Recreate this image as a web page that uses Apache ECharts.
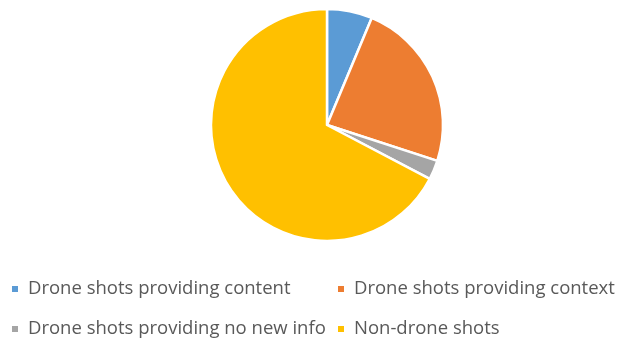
<!DOCTYPE html>
<html>
<head>
<meta charset="utf-8">
<script src="https://cdn.jsdelivr.net/npm/echarts@6/dist/echarts.min.js"></script>
<style>
  html, body { margin: 0; padding: 0; background: #fff; }
  #chart { width: 617px; height: 341px; }
</style>
</head>
<body>
<div id="chart"></div>
<script>
const categories = [
  'Drone shots providing content',
  'Drone shots providing context',
  'Drone shots providing no new info',
  'Non-drone shots'
]
const shares = [6.3, 23.7, 2.7, 67.3]
const colors = ['#5B9BD5', '#ED7D31', '#A5A5A5', '#FFC000']

// legend slots laid out like the two-column original
const legendSlots = [
  { left: 10, top: 289 },
  { left: 336, top: 289 },
  { left: 10, top: 329 },
  { left: 336, top: 329 }
]

const chart = echarts.init(document.getElementById('chart'))

const legends = categories.map((name, i) => ({
  data: [name],
  left: legendSlots[i].left,
  top: legendSlots[i].top - 10,
  padding: 0,
  itemWidth: 8,
  itemHeight: 8,
  icon: 'rect',
  selectedMode: false,
  textStyle: {
    color: '#595959',
    fontFamily: '"Open Sans", sans-serif',
    fontSize: 18.5,
    lineHeight: 20,
    padding: [0, 0, 0, 4]
  }
}))

chart.setOption({
  animation: false,
  color: colors,
  legend: legends,
  series: [
    {
      type: 'pie',
      center: [327, 125],
      radius: 116,
      startAngle: 90,
      clockwise: true,
      label: { show: false },
      labelLine: { show: false },
      itemStyle: {
        borderColor: '#fff',
        borderWidth: 2.5
      },
      emphasis: { disabled: true },
      data: categories.map((name, i) => ({ name, value: shares[i] }))
    }
  ]
})
</script>
</body>
</html>
